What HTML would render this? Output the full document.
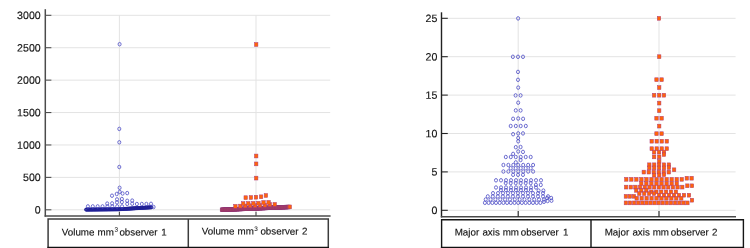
<!DOCTYPE html>
<html><head><meta charset="utf-8"><style>
html,body{margin:0;padding:0;background:#fff;}
body{width:750px;height:248px;overflow:hidden;}
div.wrap{will-change:transform;width:750px;height:248px;filter:blur(0.3px);}
svg{display:block;font-family:"Liberation Sans",sans-serif;}
.grid line{stroke:#e3e3e3;stroke-width:1;}
.axL line{stroke:#4c4c4c;stroke-width:1.5;}
.axR line{stroke:#222;stroke-width:1.4;}
.axL line.tk,.axR line.tk{stroke-width:1.1;}
.axR line.xa{stroke:#4a4a4a;stroke-width:1.5;}
.c ellipse{fill:none;stroke:#4848c4;stroke-width:0.78;}
.cb ellipse{fill:none;stroke:#1e1e96;stroke-width:1;}
.s rect{fill:#ff640a;stroke:#b03c78;stroke-width:0.5;}
.sb rect{fill:#b8445a;stroke:#8c3476;stroke-width:0.5;}
.tl text{font-size:10.6px;fill:#111;stroke:#111;stroke-width:0.14px;text-anchor:end;}
.boxL path{fill:none;stroke:#3c3c3c;stroke-width:1.5;}
.boxR path{fill:none;stroke:#151515;stroke-width:1.4;}
.boxL line.bt,.boxR line.bt{stroke:#111;stroke-width:1.6;}
.lb text{font-size:9.8px;fill:#111;stroke:#111;stroke-width:0.14px;}
.lb text.sup{font-size:6.4px;stroke-width:0;}
</style></head><body>
<div class="wrap"><svg width="750" height="248" viewBox="0 0 750 248"><g class="grid"><line x1="51.4" y1="209.8" x2="330.20000000000005" y2="209.8"/><line x1="51.4" y1="177.38" x2="330.20000000000005" y2="177.38"/><line x1="51.4" y1="144.97" x2="330.20000000000005" y2="144.97"/><line x1="51.4" y1="112.55" x2="330.20000000000005" y2="112.55"/><line x1="51.4" y1="80.13" x2="330.20000000000005" y2="80.13"/><line x1="51.4" y1="47.72" x2="330.20000000000005" y2="47.72"/><line x1="51.4" y1="15.3" x2="330.20000000000005" y2="15.3"/><line x1="119.4" y1="15.3" x2="119.4" y2="216.0"/><line x1="256.0" y1="15.3" x2="256.0" y2="216.0"/><line x1="447.8" y1="210.3" x2="735.6" y2="210.3"/><line x1="447.8" y1="171.9" x2="735.6" y2="171.9"/><line x1="447.8" y1="133.5" x2="735.6" y2="133.5"/><line x1="447.8" y1="95.1" x2="735.6" y2="95.1"/><line x1="447.8" y1="56.7" x2="735.6" y2="56.7"/><line x1="447.8" y1="18.3" x2="735.6" y2="18.3"/><line x1="518.2" y1="18.3" x2="518.2" y2="216.75"/><line x1="659.0" y1="18.3" x2="659.0" y2="216.75"/></g><g class="cb"><ellipse cx="86" cy="209.6" rx="1.5" ry="1.45"/><ellipse cx="86.6" cy="209.59" rx="1.5" ry="1.45"/><ellipse cx="87.19" cy="209.59" rx="1.5" ry="1.45"/><ellipse cx="87.79" cy="209.58" rx="1.5" ry="1.45"/><ellipse cx="88.38" cy="209.58" rx="1.5" ry="1.45"/><ellipse cx="88.98" cy="209.57" rx="1.5" ry="1.45"/><ellipse cx="89.57" cy="209.57" rx="1.5" ry="1.45"/><ellipse cx="90.17" cy="209.56" rx="1.5" ry="1.45"/><ellipse cx="90.76" cy="209.56" rx="1.5" ry="1.45"/><ellipse cx="91.36" cy="209.55" rx="1.5" ry="1.45"/><ellipse cx="91.95" cy="209.54" rx="1.5" ry="1.45"/><ellipse cx="92.55" cy="209.54" rx="1.5" ry="1.45"/><ellipse cx="93.15" cy="209.53" rx="1.5" ry="1.45"/><ellipse cx="93.74" cy="209.53" rx="1.5" ry="1.45"/><ellipse cx="94.34" cy="209.52" rx="1.5" ry="1.45"/><ellipse cx="94.93" cy="209.52" rx="1.5" ry="1.45"/><ellipse cx="95.53" cy="209.51" rx="1.5" ry="1.45"/><ellipse cx="96.12" cy="209.51" rx="1.5" ry="1.45"/><ellipse cx="96.72" cy="209.5" rx="1.5" ry="1.45"/><ellipse cx="97.31" cy="209.49" rx="1.5" ry="1.45"/><ellipse cx="97.91" cy="209.49" rx="1.5" ry="1.45"/><ellipse cx="98.5" cy="209.48" rx="1.5" ry="1.45"/><ellipse cx="99.1" cy="209.48" rx="1.5" ry="1.45"/><ellipse cx="99.7" cy="209.47" rx="1.5" ry="1.45"/><ellipse cx="100.29" cy="209.47" rx="1.5" ry="1.45"/><ellipse cx="100.89" cy="209.46" rx="1.5" ry="1.45"/><ellipse cx="101.48" cy="209.45" rx="1.5" ry="1.45"/><ellipse cx="102.08" cy="209.45" rx="1.5" ry="1.45"/><ellipse cx="102.67" cy="209.44" rx="1.5" ry="1.45"/><ellipse cx="103.27" cy="209.44" rx="1.5" ry="1.45"/><ellipse cx="103.86" cy="209.43" rx="1.5" ry="1.45"/><ellipse cx="104.46" cy="209.43" rx="1.5" ry="1.45"/><ellipse cx="105.05" cy="209.42" rx="1.5" ry="1.45"/><ellipse cx="105.65" cy="209.42" rx="1.5" ry="1.45"/><ellipse cx="106.25" cy="209.41" rx="1.5" ry="1.45"/><ellipse cx="106.84" cy="209.4" rx="1.5" ry="1.45"/><ellipse cx="107.44" cy="209.4" rx="1.5" ry="1.45"/><ellipse cx="108.03" cy="209.39" rx="1.5" ry="1.45"/><ellipse cx="108.63" cy="209.39" rx="1.5" ry="1.45"/><ellipse cx="109.22" cy="209.38" rx="1.5" ry="1.45"/><ellipse cx="109.82" cy="209.38" rx="1.5" ry="1.45"/><ellipse cx="110.41" cy="209.37" rx="1.5" ry="1.45"/><ellipse cx="111.01" cy="209.37" rx="1.5" ry="1.45"/><ellipse cx="111.6" cy="209.36" rx="1.5" ry="1.45"/><ellipse cx="112.2" cy="209.35" rx="1.5" ry="1.45"/><ellipse cx="112.8" cy="209.35" rx="1.5" ry="1.45"/><ellipse cx="113.39" cy="209.34" rx="1.5" ry="1.45"/><ellipse cx="113.99" cy="209.34" rx="1.5" ry="1.45"/><ellipse cx="114.58" cy="209.33" rx="1.5" ry="1.45"/><ellipse cx="115.18" cy="209.33" rx="1.5" ry="1.45"/><ellipse cx="115.77" cy="209.32" rx="1.5" ry="1.45"/><ellipse cx="116.37" cy="209.32" rx="1.5" ry="1.45"/><ellipse cx="116.96" cy="209.31" rx="1.5" ry="1.45"/><ellipse cx="117.56" cy="209.3" rx="1.5" ry="1.45"/><ellipse cx="118.15" cy="209.29" rx="1.5" ry="1.45"/><ellipse cx="118.75" cy="209.26" rx="1.5" ry="1.45"/><ellipse cx="119.35" cy="209.22" rx="1.5" ry="1.45"/><ellipse cx="119.94" cy="209.18" rx="1.5" ry="1.45"/><ellipse cx="120.54" cy="209.15" rx="1.5" ry="1.45"/><ellipse cx="121.13" cy="209.11" rx="1.5" ry="1.45"/><ellipse cx="121.73" cy="209.08" rx="1.5" ry="1.45"/><ellipse cx="122.32" cy="209.04" rx="1.5" ry="1.45"/><ellipse cx="122.92" cy="209.01" rx="1.5" ry="1.45"/><ellipse cx="123.51" cy="208.97" rx="1.5" ry="1.45"/><ellipse cx="124.11" cy="208.94" rx="1.5" ry="1.45"/><ellipse cx="124.7" cy="208.9" rx="1.5" ry="1.45"/><ellipse cx="125.3" cy="208.86" rx="1.5" ry="1.45"/><ellipse cx="125.9" cy="208.83" rx="1.5" ry="1.45"/><ellipse cx="126.49" cy="208.79" rx="1.5" ry="1.45"/><ellipse cx="127.09" cy="208.76" rx="1.5" ry="1.45"/><ellipse cx="127.68" cy="208.72" rx="1.5" ry="1.45"/><ellipse cx="128.28" cy="208.69" rx="1.5" ry="1.45"/><ellipse cx="128.87" cy="208.65" rx="1.5" ry="1.45"/><ellipse cx="129.47" cy="208.62" rx="1.5" ry="1.45"/><ellipse cx="130.06" cy="208.58" rx="1.5" ry="1.45"/><ellipse cx="130.66" cy="208.54" rx="1.5" ry="1.45"/><ellipse cx="131.25" cy="208.51" rx="1.5" ry="1.45"/><ellipse cx="131.85" cy="208.47" rx="1.5" ry="1.45"/><ellipse cx="132.45" cy="208.44" rx="1.5" ry="1.45"/><ellipse cx="133.04" cy="208.4" rx="1.5" ry="1.45"/><ellipse cx="133.64" cy="208.37" rx="1.5" ry="1.45"/><ellipse cx="134.23" cy="208.33" rx="1.5" ry="1.45"/><ellipse cx="134.83" cy="208.3" rx="1.5" ry="1.45"/><ellipse cx="135.42" cy="208.26" rx="1.5" ry="1.45"/><ellipse cx="136.02" cy="208.22" rx="1.5" ry="1.45"/><ellipse cx="136.61" cy="208.19" rx="1.5" ry="1.45"/><ellipse cx="137.21" cy="208.15" rx="1.5" ry="1.45"/><ellipse cx="137.8" cy="208.12" rx="1.5" ry="1.45"/><ellipse cx="138.4" cy="208.08" rx="1.5" ry="1.45"/><ellipse cx="139" cy="208.05" rx="1.5" ry="1.45"/><ellipse cx="139.59" cy="208.01" rx="1.5" ry="1.45"/><ellipse cx="140.19" cy="207.98" rx="1.5" ry="1.45"/><ellipse cx="140.78" cy="207.94" rx="1.5" ry="1.45"/><ellipse cx="141.38" cy="207.9" rx="1.5" ry="1.45"/><ellipse cx="141.97" cy="207.87" rx="1.5" ry="1.45"/><ellipse cx="142.57" cy="207.83" rx="1.5" ry="1.45"/><ellipse cx="143.16" cy="207.8" rx="1.5" ry="1.45"/><ellipse cx="143.76" cy="207.76" rx="1.5" ry="1.45"/><ellipse cx="144.35" cy="207.73" rx="1.5" ry="1.45"/><ellipse cx="144.95" cy="207.69" rx="1.5" ry="1.45"/><ellipse cx="145.55" cy="207.66" rx="1.5" ry="1.45"/><ellipse cx="146.14" cy="207.62" rx="1.5" ry="1.45"/><ellipse cx="146.74" cy="207.58" rx="1.5" ry="1.45"/><ellipse cx="147.33" cy="207.55" rx="1.5" ry="1.45"/><ellipse cx="147.93" cy="207.51" rx="1.5" ry="1.45"/><ellipse cx="148.52" cy="207.48" rx="1.5" ry="1.45"/><ellipse cx="149.12" cy="207.44" rx="1.5" ry="1.45"/><ellipse cx="149.71" cy="207.41" rx="1.5" ry="1.45"/><ellipse cx="150.31" cy="207.37" rx="1.5" ry="1.45"/><ellipse cx="150.9" cy="207.34" rx="1.5" ry="1.45"/><ellipse cx="151.5" cy="207.3" rx="1.5" ry="1.45"/></g><g class="c"><ellipse cx="119.6" cy="44.2" rx="1.52" ry="1.76"/><ellipse cx="119.3" cy="128.9" rx="1.52" ry="1.76"/><ellipse cx="119.3" cy="142.3" rx="1.52" ry="1.76"/><ellipse cx="119.3" cy="167" rx="1.52" ry="1.76"/><ellipse cx="119.6" cy="187.8" rx="1.52" ry="1.76"/><ellipse cx="119.7" cy="191.9" rx="1.52" ry="1.76"/><ellipse cx="116.7" cy="194" rx="1.52" ry="1.76"/><ellipse cx="122.6" cy="193.5" rx="1.52" ry="1.76"/><ellipse cx="127.2" cy="193.1" rx="1.52" ry="1.76"/><ellipse cx="112" cy="195.7" rx="1.52" ry="1.76"/><ellipse cx="117" cy="199.4" rx="1.52" ry="1.76"/><ellipse cx="121.9" cy="199" rx="1.52" ry="1.76"/><ellipse cx="127.2" cy="200.8" rx="1.52" ry="1.76"/><ellipse cx="132.2" cy="200.6" rx="1.52" ry="1.76"/><ellipse cx="117" cy="202.4" rx="1.52" ry="1.76"/><ellipse cx="121.9" cy="202" rx="1.52" ry="1.76"/><ellipse cx="107.2" cy="203.6" rx="1.52" ry="1.76"/><ellipse cx="112.1" cy="203.4" rx="1.52" ry="1.76"/><ellipse cx="127.2" cy="203.9" rx="1.52" ry="1.76"/><ellipse cx="132.2" cy="203.7" rx="1.52" ry="1.76"/><ellipse cx="136.9" cy="204" rx="1.52" ry="1.76"/><ellipse cx="141.8" cy="204" rx="1.52" ry="1.76"/><ellipse cx="146.4" cy="204" rx="1.52" ry="1.76"/><ellipse cx="151" cy="203.8" rx="1.52" ry="1.76"/><ellipse cx="87.9" cy="206.4" rx="1.52" ry="1.76"/><ellipse cx="92.78" cy="206.4" rx="1.52" ry="1.76"/><ellipse cx="97.66" cy="206.4" rx="1.52" ry="1.76"/><ellipse cx="102.54" cy="206.4" rx="1.52" ry="1.76"/><ellipse cx="107.42" cy="206.4" rx="1.52" ry="1.76"/><ellipse cx="112.3" cy="206.4" rx="1.52" ry="1.76"/><ellipse cx="117.18" cy="206.4" rx="1.52" ry="1.76"/><ellipse cx="122.06" cy="206.4" rx="1.52" ry="1.76"/><ellipse cx="153.6" cy="207" rx="1.52" ry="1.76"/><ellipse cx="518.1" cy="18.4" rx="1.52" ry="1.76"/><ellipse cx="512.9" cy="56.8" rx="1.52" ry="1.76"/><ellipse cx="518" cy="56.8" rx="1.52" ry="1.76"/><ellipse cx="523" cy="56.8" rx="1.52" ry="1.76"/><ellipse cx="518" cy="71.9" rx="1.52" ry="1.76"/><ellipse cx="518" cy="79.8" rx="1.52" ry="1.76"/><ellipse cx="518.2" cy="87.6" rx="1.52" ry="1.76"/><ellipse cx="515.6" cy="95.4" rx="1.52" ry="1.76"/><ellipse cx="520.6" cy="95.4" rx="1.52" ry="1.76"/><ellipse cx="518.2" cy="102.7" rx="1.52" ry="1.76"/><ellipse cx="515.8" cy="110.4" rx="1.52" ry="1.76"/><ellipse cx="520.6" cy="110.4" rx="1.52" ry="1.76"/><ellipse cx="513.1" cy="118.8" rx="1.52" ry="1.76"/><ellipse cx="518.2" cy="118.5" rx="1.52" ry="1.76"/><ellipse cx="523.1" cy="118.8" rx="1.52" ry="1.76"/><ellipse cx="510.7" cy="126" rx="1.52" ry="1.76"/><ellipse cx="515.8" cy="126" rx="1.52" ry="1.76"/><ellipse cx="520.7" cy="126" rx="1.52" ry="1.76"/><ellipse cx="525.8" cy="126" rx="1.52" ry="1.76"/><ellipse cx="513.1" cy="134.2" rx="1.52" ry="1.76"/><ellipse cx="518.2" cy="133.4" rx="1.52" ry="1.76"/><ellipse cx="523" cy="133.4" rx="1.52" ry="1.76"/><ellipse cx="518.2" cy="138" rx="1.52" ry="1.76"/><ellipse cx="518.2" cy="141.3" rx="1.52" ry="1.76"/><ellipse cx="515.8" cy="147.2" rx="1.52" ry="1.76"/><ellipse cx="520.6" cy="147" rx="1.52" ry="1.76"/><ellipse cx="518.2" cy="151.5" rx="1.52" ry="1.76"/><ellipse cx="523" cy="151.9" rx="1.52" ry="1.76"/><ellipse cx="513.1" cy="153.9" rx="1.52" ry="1.76"/><ellipse cx="505.8" cy="157" rx="1.52" ry="1.76"/><ellipse cx="510.78" cy="157" rx="1.52" ry="1.76"/><ellipse cx="515.76" cy="157" rx="1.52" ry="1.76"/><ellipse cx="520.74" cy="157" rx="1.52" ry="1.76"/><ellipse cx="525.72" cy="157" rx="1.52" ry="1.76"/><ellipse cx="530.7" cy="157" rx="1.52" ry="1.76"/><ellipse cx="520.6" cy="160" rx="1.52" ry="1.76"/><ellipse cx="515.8" cy="162.4" rx="1.52" ry="1.76"/><ellipse cx="503.4" cy="165" rx="1.52" ry="1.76"/><ellipse cx="508.35" cy="165" rx="1.52" ry="1.76"/><ellipse cx="513.3" cy="165" rx="1.52" ry="1.76"/><ellipse cx="518.25" cy="165" rx="1.52" ry="1.76"/><ellipse cx="523.2" cy="165" rx="1.52" ry="1.76"/><ellipse cx="528.15" cy="165" rx="1.52" ry="1.76"/><ellipse cx="533.1" cy="165" rx="1.52" ry="1.76"/><ellipse cx="510.7" cy="168.2" rx="1.52" ry="1.76"/><ellipse cx="515.7" cy="168.2" rx="1.52" ry="1.76"/><ellipse cx="520.7" cy="168.2" rx="1.52" ry="1.76"/><ellipse cx="525.7" cy="168.2" rx="1.52" ry="1.76"/><ellipse cx="530.7" cy="168.2" rx="1.52" ry="1.76"/><ellipse cx="503.4" cy="171.5" rx="1.52" ry="1.76"/><ellipse cx="508.35" cy="171.5" rx="1.52" ry="1.76"/><ellipse cx="513.3" cy="171.5" rx="1.52" ry="1.76"/><ellipse cx="518.25" cy="171.5" rx="1.52" ry="1.76"/><ellipse cx="523.2" cy="171.5" rx="1.52" ry="1.76"/><ellipse cx="528.15" cy="171.5" rx="1.52" ry="1.76"/><ellipse cx="533.1" cy="171.5" rx="1.52" ry="1.76"/><ellipse cx="513.1" cy="174.8" rx="1.52" ry="1.76"/><ellipse cx="518.05" cy="174.8" rx="1.52" ry="1.76"/><ellipse cx="523" cy="174.8" rx="1.52" ry="1.76"/><ellipse cx="496" cy="180.3" rx="1.52" ry="1.76"/><ellipse cx="501" cy="180.3" rx="1.52" ry="1.76"/><ellipse cx="506" cy="180.3" rx="1.52" ry="1.76"/><ellipse cx="511" cy="180.3" rx="1.52" ry="1.76"/><ellipse cx="516" cy="180.3" rx="1.52" ry="1.76"/><ellipse cx="521" cy="180.3" rx="1.52" ry="1.76"/><ellipse cx="526" cy="180.3" rx="1.52" ry="1.76"/><ellipse cx="531" cy="180.3" rx="1.52" ry="1.76"/><ellipse cx="536" cy="180.3" rx="1.52" ry="1.76"/><ellipse cx="541" cy="180.3" rx="1.52" ry="1.76"/><ellipse cx="505.7" cy="183" rx="1.52" ry="1.76"/><ellipse cx="510.7" cy="183" rx="1.52" ry="1.76"/><ellipse cx="515.7" cy="183" rx="1.52" ry="1.76"/><ellipse cx="520.7" cy="183" rx="1.52" ry="1.76"/><ellipse cx="525.7" cy="183" rx="1.52" ry="1.76"/><ellipse cx="530.7" cy="183" rx="1.52" ry="1.76"/><ellipse cx="535.9" cy="184.9" rx="1.52" ry="1.76"/><ellipse cx="540.8" cy="184.9" rx="1.52" ry="1.76"/><ellipse cx="496" cy="187.5" rx="1.52" ry="1.76"/><ellipse cx="501" cy="187.5" rx="1.52" ry="1.76"/><ellipse cx="506" cy="187.5" rx="1.52" ry="1.76"/><ellipse cx="511" cy="187.5" rx="1.52" ry="1.76"/><ellipse cx="516" cy="187.5" rx="1.52" ry="1.76"/><ellipse cx="521" cy="187.5" rx="1.52" ry="1.76"/><ellipse cx="526" cy="187.5" rx="1.52" ry="1.76"/><ellipse cx="531" cy="187.5" rx="1.52" ry="1.76"/><ellipse cx="536" cy="187.5" rx="1.52" ry="1.76"/><ellipse cx="500.9" cy="190" rx="1.52" ry="1.76"/><ellipse cx="505.9" cy="190" rx="1.52" ry="1.76"/><ellipse cx="510.9" cy="190" rx="1.52" ry="1.76"/><ellipse cx="515.9" cy="190" rx="1.52" ry="1.76"/><ellipse cx="520.9" cy="190" rx="1.52" ry="1.76"/><ellipse cx="525.9" cy="190" rx="1.52" ry="1.76"/><ellipse cx="530.9" cy="190" rx="1.52" ry="1.76"/><ellipse cx="538.6" cy="190.6" rx="1.52" ry="1.76"/><ellipse cx="543.4" cy="190.6" rx="1.52" ry="1.76"/><ellipse cx="493" cy="193.2" rx="1.52" ry="1.76"/><ellipse cx="498" cy="193.2" rx="1.52" ry="1.76"/><ellipse cx="503" cy="193.2" rx="1.52" ry="1.76"/><ellipse cx="508" cy="193.2" rx="1.52" ry="1.76"/><ellipse cx="513" cy="193.2" rx="1.52" ry="1.76"/><ellipse cx="518" cy="193.2" rx="1.52" ry="1.76"/><ellipse cx="523" cy="193.2" rx="1.52" ry="1.76"/><ellipse cx="528" cy="193.2" rx="1.52" ry="1.76"/><ellipse cx="533" cy="193.2" rx="1.52" ry="1.76"/><ellipse cx="538" cy="193.2" rx="1.52" ry="1.76"/><ellipse cx="543" cy="193.2" rx="1.52" ry="1.76"/><ellipse cx="487.8" cy="196.4" rx="1.52" ry="1.76"/><ellipse cx="492.82" cy="196.4" rx="1.52" ry="1.76"/><ellipse cx="497.84" cy="196.4" rx="1.52" ry="1.76"/><ellipse cx="502.86" cy="196.4" rx="1.52" ry="1.76"/><ellipse cx="507.88" cy="196.4" rx="1.52" ry="1.76"/><ellipse cx="512.9" cy="196.4" rx="1.52" ry="1.76"/><ellipse cx="517.92" cy="196.4" rx="1.52" ry="1.76"/><ellipse cx="522.94" cy="196.4" rx="1.52" ry="1.76"/><ellipse cx="527.96" cy="196.4" rx="1.52" ry="1.76"/><ellipse cx="532.98" cy="196.4" rx="1.52" ry="1.76"/><ellipse cx="538" cy="196.4" rx="1.52" ry="1.76"/><ellipse cx="543.02" cy="196.4" rx="1.52" ry="1.76"/><ellipse cx="548.04" cy="196.4" rx="1.52" ry="1.76"/><ellipse cx="485.7" cy="199.5" rx="1.52" ry="1.76"/><ellipse cx="490.55" cy="199.5" rx="1.52" ry="1.76"/><ellipse cx="495.4" cy="199.5" rx="1.52" ry="1.76"/><ellipse cx="500.25" cy="199.5" rx="1.52" ry="1.76"/><ellipse cx="505.1" cy="199.5" rx="1.52" ry="1.76"/><ellipse cx="509.95" cy="199.5" rx="1.52" ry="1.76"/><ellipse cx="514.8" cy="199.5" rx="1.52" ry="1.76"/><ellipse cx="519.65" cy="199.5" rx="1.52" ry="1.76"/><ellipse cx="524.5" cy="199.5" rx="1.52" ry="1.76"/><ellipse cx="529.35" cy="199.5" rx="1.52" ry="1.76"/><ellipse cx="534.2" cy="199.5" rx="1.52" ry="1.76"/><ellipse cx="539.05" cy="199.5" rx="1.52" ry="1.76"/><ellipse cx="543.9" cy="199.5" rx="1.52" ry="1.76"/><ellipse cx="547.1" cy="198" rx="1.52" ry="1.76"/><ellipse cx="551.2" cy="198" rx="1.52" ry="1.76"/><ellipse cx="484.9" cy="202.8" rx="1.52" ry="1.76"/><ellipse cx="488.6" cy="202.8" rx="1.52" ry="1.76"/><ellipse cx="492.3" cy="202.8" rx="1.52" ry="1.76"/><ellipse cx="496" cy="202.8" rx="1.52" ry="1.76"/><ellipse cx="499.7" cy="202.8" rx="1.52" ry="1.76"/><ellipse cx="503.4" cy="202.8" rx="1.52" ry="1.76"/><ellipse cx="507.1" cy="202.8" rx="1.52" ry="1.76"/><ellipse cx="510.8" cy="202.8" rx="1.52" ry="1.76"/><ellipse cx="514.5" cy="202.8" rx="1.52" ry="1.76"/><ellipse cx="518.2" cy="202.8" rx="1.52" ry="1.76"/><ellipse cx="521.9" cy="202.8" rx="1.52" ry="1.76"/><ellipse cx="525.6" cy="202.8" rx="1.52" ry="1.76"/><ellipse cx="529.3" cy="202.8" rx="1.52" ry="1.76"/><ellipse cx="533" cy="202.8" rx="1.52" ry="1.76"/><ellipse cx="536.7" cy="202.8" rx="1.52" ry="1.76"/><ellipse cx="540.4" cy="202.8" rx="1.52" ry="1.76"/><ellipse cx="544" cy="201.8" rx="1.52" ry="1.76"/><ellipse cx="547.6" cy="201" rx="1.52" ry="1.76"/><ellipse cx="551.5" cy="200.7" rx="1.52" ry="1.76"/></g><g class="sb"><rect x="220.19" y="207.91" width="3.22" height="3.78"/><rect x="220.93" y="207.88" width="3.22" height="3.78"/><rect x="221.67" y="207.85" width="3.22" height="3.78"/><rect x="222.41" y="207.82" width="3.22" height="3.78"/><rect x="223.15" y="207.79" width="3.22" height="3.78"/><rect x="223.9" y="207.75" width="3.22" height="3.78"/><rect x="224.64" y="207.72" width="3.22" height="3.78"/><rect x="225.38" y="207.69" width="3.22" height="3.78"/><rect x="226.12" y="207.66" width="3.22" height="3.78"/><rect x="226.86" y="207.63" width="3.22" height="3.78"/><rect x="227.6" y="207.6" width="3.22" height="3.78"/><rect x="228.34" y="207.57" width="3.22" height="3.78"/><rect x="229.08" y="207.54" width="3.22" height="3.78"/><rect x="229.82" y="207.51" width="3.22" height="3.78"/><rect x="230.57" y="207.47" width="3.22" height="3.78"/><rect x="231.31" y="207.44" width="3.22" height="3.78"/><rect x="232.05" y="207.41" width="3.22" height="3.78"/><rect x="232.79" y="207.38" width="3.22" height="3.78"/><rect x="233.53" y="207.35" width="3.22" height="3.78"/><rect x="234.27" y="207.32" width="3.22" height="3.78"/><rect x="235.01" y="207.29" width="3.22" height="3.78"/><rect x="235.75" y="207.26" width="3.22" height="3.78"/><rect x="236.49" y="207.23" width="3.22" height="3.78"/><rect x="237.24" y="207.19" width="3.22" height="3.78"/><rect x="237.98" y="207.16" width="3.22" height="3.78"/><rect x="238.72" y="207.13" width="3.22" height="3.78"/><rect x="239.46" y="207.1" width="3.22" height="3.78"/><rect x="240.2" y="207.07" width="3.22" height="3.78"/><rect x="240.94" y="207.04" width="3.22" height="3.78"/><rect x="241.68" y="207.01" width="3.22" height="3.78"/><rect x="242.42" y="206.98" width="3.22" height="3.78"/><rect x="243.16" y="206.95" width="3.22" height="3.78"/><rect x="243.91" y="206.91" width="3.22" height="3.78"/><rect x="244.65" y="206.88" width="3.22" height="3.78"/><rect x="245.39" y="206.85" width="3.22" height="3.78"/><rect x="246.13" y="206.82" width="3.22" height="3.78"/><rect x="246.87" y="206.79" width="3.22" height="3.78"/><rect x="247.61" y="206.76" width="3.22" height="3.78"/><rect x="248.35" y="206.73" width="3.22" height="3.78"/><rect x="249.09" y="206.7" width="3.22" height="3.78"/><rect x="249.83" y="206.67" width="3.22" height="3.78"/><rect x="250.58" y="206.63" width="3.22" height="3.78"/><rect x="251.32" y="206.6" width="3.22" height="3.78"/><rect x="252.06" y="206.57" width="3.22" height="3.78"/><rect x="252.8" y="206.54" width="3.22" height="3.78"/><rect x="253.54" y="206.51" width="3.22" height="3.78"/><rect x="254.28" y="206.48" width="3.22" height="3.78"/><rect x="255.02" y="206.45" width="3.22" height="3.78"/><rect x="255.76" y="206.42" width="3.22" height="3.78"/><rect x="256.5" y="206.39" width="3.22" height="3.78"/><rect x="257.25" y="206.35" width="3.22" height="3.78"/><rect x="257.99" y="206.32" width="3.22" height="3.78"/><rect x="258.73" y="206.29" width="3.22" height="3.78"/><rect x="259.47" y="206.26" width="3.22" height="3.78"/><rect x="260.21" y="206.23" width="3.22" height="3.78"/><rect x="260.95" y="206.2" width="3.22" height="3.78"/><rect x="261.69" y="206.17" width="3.22" height="3.78"/><rect x="262.43" y="206.14" width="3.22" height="3.78"/><rect x="263.17" y="206.11" width="3.22" height="3.78"/><rect x="263.92" y="206.07" width="3.22" height="3.78"/><rect x="264.66" y="206.04" width="3.22" height="3.78"/><rect x="265.4" y="206.01" width="3.22" height="3.78"/><rect x="266.14" y="205.98" width="3.22" height="3.78"/><rect x="266.88" y="205.95" width="3.22" height="3.78"/><rect x="267.62" y="205.92" width="3.22" height="3.78"/><rect x="268.36" y="205.89" width="3.22" height="3.78"/><rect x="269.1" y="205.86" width="3.22" height="3.78"/><rect x="269.84" y="205.83" width="3.22" height="3.78"/><rect x="270.59" y="205.79" width="3.22" height="3.78"/><rect x="271.33" y="205.76" width="3.22" height="3.78"/><rect x="272.07" y="205.73" width="3.22" height="3.78"/><rect x="272.81" y="205.7" width="3.22" height="3.78"/><rect x="273.55" y="205.67" width="3.22" height="3.78"/><rect x="274.29" y="205.64" width="3.22" height="3.78"/><rect x="275.03" y="205.61" width="3.22" height="3.78"/><rect x="275.77" y="205.58" width="3.22" height="3.78"/><rect x="276.51" y="205.55" width="3.22" height="3.78"/><rect x="277.26" y="205.51" width="3.22" height="3.78"/><rect x="278" y="205.48" width="3.22" height="3.78"/><rect x="278.74" y="205.45" width="3.22" height="3.78"/><rect x="279.48" y="205.42" width="3.22" height="3.78"/><rect x="280.22" y="205.39" width="3.22" height="3.78"/><rect x="280.96" y="205.36" width="3.22" height="3.78"/><rect x="281.7" y="205.33" width="3.22" height="3.78"/><rect x="282.44" y="205.3" width="3.22" height="3.78"/><rect x="283.18" y="205.27" width="3.22" height="3.78"/><rect x="283.93" y="205.23" width="3.22" height="3.78"/><rect x="284.67" y="205.2" width="3.22" height="3.78"/><rect x="285.41" y="205.17" width="3.22" height="3.78"/><rect x="286.15" y="205.14" width="3.22" height="3.78"/><rect x="286.89" y="205.11" width="3.22" height="3.78"/></g><g class="s"><rect x="233.68" y="204.38" width="3.45" height="3.85"/><rect x="238.59" y="204.19" width="3.45" height="3.85"/><rect x="243.52" y="204.01" width="3.45" height="3.85"/><rect x="248.44" y="203.84" width="3.45" height="3.85"/><rect x="253.36" y="203.66" width="3.45" height="3.85"/><rect x="258.27" y="203.47" width="3.45" height="3.85"/><rect x="263.19" y="203.29" width="3.45" height="3.85"/><rect x="268.12" y="202.62" width="3.45" height="3.85"/><rect x="273.03" y="202.44" width="3.45" height="3.85"/><rect x="241.47" y="201.67" width="3.45" height="3.85"/><rect x="246.56" y="201.55" width="3.45" height="3.85"/><rect x="251.63" y="201.43" width="3.45" height="3.85"/><rect x="256.71" y="201.31" width="3.45" height="3.85"/><rect x="261.79" y="200.59" width="3.45" height="3.85"/><rect x="266.87" y="200.47" width="3.45" height="3.85"/><rect x="254.47" y="42.58" width="3.45" height="3.85"/><rect x="254.47" y="154.07" width="3.45" height="3.85"/><rect x="254.47" y="161.97" width="3.45" height="3.85"/><rect x="254.47" y="176.17" width="3.45" height="3.85"/><rect x="243.97" y="195.77" width="3.45" height="3.85"/><rect x="249.18" y="195.57" width="3.45" height="3.85"/><rect x="254.28" y="195.27" width="3.45" height="3.85"/><rect x="259.38" y="194.88" width="3.45" height="3.85"/><rect x="264.17" y="193.57" width="3.45" height="3.85"/><rect x="288.07" y="204.97" width="3.45" height="3.85"/><rect x="657.27" y="16.38" width="3.45" height="3.85"/><rect x="657.48" y="54.78" width="3.45" height="3.85"/><rect x="654.77" y="77.78" width="3.45" height="3.85"/><rect x="659.88" y="77.78" width="3.45" height="3.85"/><rect x="657.48" y="85.67" width="3.45" height="3.85"/><rect x="652.38" y="93.28" width="3.45" height="3.85"/><rect x="657.48" y="93.28" width="3.45" height="3.85"/><rect x="662.27" y="93.28" width="3.45" height="3.85"/><rect x="657.48" y="101.17" width="3.45" height="3.85"/><rect x="657.48" y="108.78" width="3.45" height="3.85"/><rect x="654.77" y="116.28" width="3.45" height="3.85"/><rect x="659.88" y="116.28" width="3.45" height="3.85"/><rect x="657.48" y="124.17" width="3.45" height="3.85"/><rect x="654.77" y="131.77" width="3.45" height="3.85"/><rect x="659.88" y="131.77" width="3.45" height="3.85"/><rect x="649.98" y="139.27" width="3.45" height="3.85"/><rect x="655" y="139.27" width="3.45" height="3.85"/><rect x="660.03" y="139.27" width="3.45" height="3.85"/><rect x="665.07" y="139.27" width="3.45" height="3.85"/><rect x="649.98" y="146.77" width="3.45" height="3.85"/><rect x="655" y="146.77" width="3.45" height="3.85"/><rect x="660.03" y="146.77" width="3.45" height="3.85"/><rect x="665.07" y="146.77" width="3.45" height="3.85"/><rect x="652.38" y="150.17" width="3.45" height="3.85"/><rect x="657.33" y="150.17" width="3.45" height="3.85"/><rect x="662.27" y="150.17" width="3.45" height="3.85"/><rect x="662.27" y="152.57" width="3.45" height="3.85"/><rect x="652.38" y="154.97" width="3.45" height="3.85"/><rect x="657.48" y="154.97" width="3.45" height="3.85"/><rect x="657.48" y="159.38" width="3.45" height="3.85"/><rect x="647.57" y="162.88" width="3.45" height="3.85"/><rect x="652.47" y="162.88" width="3.45" height="3.85"/><rect x="657.37" y="162.88" width="3.45" height="3.85"/><rect x="662.27" y="162.88" width="3.45" height="3.85"/><rect x="667.17" y="162.88" width="3.45" height="3.85"/><rect x="647.57" y="165.97" width="3.45" height="3.85"/><rect x="652.47" y="165.97" width="3.45" height="3.85"/><rect x="657.37" y="165.97" width="3.45" height="3.85"/><rect x="662.27" y="165.97" width="3.45" height="3.85"/><rect x="672.38" y="167.88" width="3.45" height="3.85"/><rect x="642.07" y="170.17" width="3.45" height="3.85"/><rect x="647.07" y="170.17" width="3.45" height="3.85"/><rect x="652.07" y="170.17" width="3.45" height="3.85"/><rect x="657.07" y="170.17" width="3.45" height="3.85"/><rect x="662.07" y="170.17" width="3.45" height="3.85"/><rect x="667.07" y="170.17" width="3.45" height="3.85"/><rect x="652.38" y="173.17" width="3.45" height="3.85"/><rect x="657.48" y="173.07" width="3.45" height="3.85"/><rect x="662.27" y="172.77" width="3.45" height="3.85"/><rect x="667.17" y="165.67" width="3.45" height="3.85"/><rect x="624.57" y="177.38" width="3.45" height="3.85"/><rect x="629.61" y="177.38" width="3.45" height="3.85"/><rect x="634.65" y="177.38" width="3.45" height="3.85"/><rect x="639.69" y="177.38" width="3.45" height="3.85"/><rect x="644.73" y="177.38" width="3.45" height="3.85"/><rect x="649.77" y="177.38" width="3.45" height="3.85"/><rect x="654.81" y="177.38" width="3.45" height="3.85"/><rect x="659.85" y="177.38" width="3.45" height="3.85"/><rect x="664.89" y="177.38" width="3.45" height="3.85"/><rect x="669.93" y="177.38" width="3.45" height="3.85"/><rect x="674.97" y="177.38" width="3.45" height="3.85"/><rect x="680.01" y="177.38" width="3.45" height="3.85"/><rect x="685.07" y="176.27" width="3.45" height="3.85"/><rect x="689.88" y="176.27" width="3.45" height="3.85"/><rect x="639.57" y="181.47" width="3.45" height="3.85"/><rect x="644.63" y="181.47" width="3.45" height="3.85"/><rect x="649.69" y="181.47" width="3.45" height="3.85"/><rect x="654.75" y="181.47" width="3.45" height="3.85"/><rect x="659.81" y="181.47" width="3.45" height="3.85"/><rect x="664.87" y="181.47" width="3.45" height="3.85"/><rect x="669.93" y="181.47" width="3.45" height="3.85"/><rect x="674.99" y="181.47" width="3.45" height="3.85"/><rect x="624.38" y="185.17" width="3.45" height="3.85"/><rect x="629.05" y="185.17" width="3.45" height="3.85"/><rect x="633.74" y="185.17" width="3.45" height="3.85"/><rect x="638.41" y="185.17" width="3.45" height="3.85"/><rect x="643.1" y="185.17" width="3.45" height="3.85"/><rect x="647.77" y="185.17" width="3.45" height="3.85"/><rect x="652.46" y="185.17" width="3.45" height="3.85"/><rect x="657.13" y="185.17" width="3.45" height="3.85"/><rect x="661.81" y="185.17" width="3.45" height="3.85"/><rect x="666.5" y="185.17" width="3.45" height="3.85"/><rect x="671.17" y="185.17" width="3.45" height="3.85"/><rect x="675.86" y="185.17" width="3.45" height="3.85"/><rect x="680.53" y="185.17" width="3.45" height="3.85"/><rect x="685.67" y="183.88" width="3.45" height="3.85"/><rect x="690.27" y="183.88" width="3.45" height="3.85"/><rect x="634.48" y="188.38" width="3.45" height="3.85"/><rect x="639.52" y="188.38" width="3.45" height="3.85"/><rect x="644.58" y="188.38" width="3.45" height="3.85"/><rect x="649.67" y="189.97" width="3.45" height="3.85"/><rect x="654.57" y="189.97" width="3.45" height="3.85"/><rect x="659.47" y="189.97" width="3.45" height="3.85"/><rect x="664.38" y="189.97" width="3.45" height="3.85"/><rect x="669.27" y="189.97" width="3.45" height="3.85"/><rect x="674.17" y="189.97" width="3.45" height="3.85"/><rect x="637.57" y="191.67" width="3.45" height="3.85"/><rect x="642.47" y="191.67" width="3.45" height="3.85"/><rect x="647.37" y="191.67" width="3.45" height="3.85"/><rect x="652.27" y="191.67" width="3.45" height="3.85"/><rect x="657.27" y="193.27" width="3.45" height="3.85"/><rect x="662.27" y="193.27" width="3.45" height="3.85"/><rect x="667.27" y="193.27" width="3.45" height="3.85"/><rect x="672.27" y="193.27" width="3.45" height="3.85"/><rect x="677.27" y="193.27" width="3.45" height="3.85"/><rect x="682.27" y="193.27" width="3.45" height="3.85"/><rect x="687.27" y="193.27" width="3.45" height="3.85"/><rect x="624.17" y="194.38" width="3.45" height="3.85"/><rect x="628.17" y="194.38" width="3.45" height="3.85"/><rect x="632.17" y="194.38" width="3.45" height="3.85"/><rect x="634.98" y="196.27" width="3.45" height="3.85"/><rect x="639.93" y="196.27" width="3.45" height="3.85"/><rect x="644.88" y="196.27" width="3.45" height="3.85"/><rect x="649.83" y="196.27" width="3.45" height="3.85"/><rect x="654.77" y="196.27" width="3.45" height="3.85"/><rect x="659.73" y="196.27" width="3.45" height="3.85"/><rect x="664.68" y="196.27" width="3.45" height="3.85"/><rect x="669.62" y="196.27" width="3.45" height="3.85"/><rect x="674.58" y="196.27" width="3.45" height="3.85"/><rect x="679.52" y="196.27" width="3.45" height="3.85"/><rect x="690.27" y="198.27" width="3.45" height="3.85"/><rect x="624.17" y="200.97" width="3.45" height="3.85"/><rect x="628.27" y="200.97" width="3.45" height="3.85"/><rect x="632.38" y="200.97" width="3.45" height="3.85"/><rect x="636.47" y="200.97" width="3.45" height="3.85"/><rect x="640.57" y="200.97" width="3.45" height="3.85"/><rect x="644.67" y="200.97" width="3.45" height="3.85"/><rect x="648.77" y="200.97" width="3.45" height="3.85"/><rect x="652.88" y="200.97" width="3.45" height="3.85"/><rect x="656.97" y="200.97" width="3.45" height="3.85"/><rect x="661.07" y="200.97" width="3.45" height="3.85"/><rect x="665.17" y="200.97" width="3.45" height="3.85"/><rect x="669.27" y="200.97" width="3.45" height="3.85"/><rect x="673.38" y="200.97" width="3.45" height="3.85"/><rect x="677.47" y="200.97" width="3.45" height="3.85"/><rect x="681.57" y="200.97" width="3.45" height="3.85"/><rect x="685.67" y="200.97" width="3.45" height="3.85"/></g><g class="axL"><line x1="45.3" y1="9.2" x2="45.3" y2="216.7"/><line x1="44.599999999999994" y1="216.0" x2="330.6" y2="216.0"/><line class="tk" x1="45.3" y1="209.8" x2="51.4" y2="209.8"/><line class="tk" x1="45.3" y1="177.38" x2="51.4" y2="177.38"/><line class="tk" x1="45.3" y1="144.97" x2="51.4" y2="144.97"/><line class="tk" x1="45.3" y1="112.55" x2="51.4" y2="112.55"/><line class="tk" x1="45.3" y1="80.13" x2="51.4" y2="80.13"/><line class="tk" x1="45.3" y1="47.72" x2="51.4" y2="47.72"/><line class="tk" x1="45.3" y1="15.3" x2="51.4" y2="15.3"/><line class="tk" x1="119.4" y1="211.7" x2="119.4" y2="216.0"/><line class="tk" x1="256.0" y1="211.7" x2="256.0" y2="216.0"/></g><g class="axR"><line x1="441.5" y1="12.3" x2="441.5" y2="217.45"/><line class="xa" x1="440.8" y1="216.75" x2="736.0" y2="216.75"/><line class="tk" x1="441.5" y1="210.3" x2="447.8" y2="210.3"/><line class="tk" x1="441.5" y1="171.9" x2="447.8" y2="171.9"/><line class="tk" x1="441.5" y1="133.5" x2="447.8" y2="133.5"/><line class="tk" x1="441.5" y1="95.1" x2="447.8" y2="95.1"/><line class="tk" x1="441.5" y1="56.7" x2="447.8" y2="56.7"/><line class="tk" x1="441.5" y1="18.3" x2="447.8" y2="18.3"/><line class="tk" x1="518.2" y1="211" x2="518.2" y2="216.75"/><line class="tk" x1="659.0" y1="211" x2="659.0" y2="216.75"/></g><g class="tl"><text transform="translate(40.7 213.5) rotate(0.05)">0</text><text transform="translate(40.7 181.08) rotate(0.05)">500</text><text transform="translate(40.7 148.67) rotate(0.05)">1000</text><text transform="translate(40.7 116.25) rotate(0.05)">1500</text><text transform="translate(40.7 83.83) rotate(0.05)">2000</text><text transform="translate(40.7 51.42) rotate(0.05)">2500</text><text transform="translate(40.7 19) rotate(0.05)">3000</text><text transform="translate(437.3 214) rotate(0.05)">0</text><text transform="translate(437.3 175.6) rotate(0.05)">5</text><text transform="translate(437.3 137.2) rotate(0.05)">10</text><text transform="translate(437.3 98.8) rotate(0.05)">15</text><text transform="translate(437.3 60.4) rotate(0.05)">20</text><text transform="translate(437.3 22) rotate(0.05)">25</text></g><g class="boxL"><path d="M48.1 248.6V218.9H328.3V248.6M188.3 218.9V248.6"/><line class="bt" x1="47.4" y1="247.6" x2="329.0" y2="247.6"/></g><g class="boxR"><path d="M441.6 248.6V219.7H743.4V248.6M591.0 219.7V248.6"/><line class="bt" x1="440.90000000000003" y1="247.6" x2="744.1" y2="247.6"/></g><g class="lb"><text transform="translate(61.8 235.4) rotate(0.05)">Volume</text><text transform="translate(97.6 235.4) rotate(0.05)">mm</text><text transform="translate(114.45 231.7) rotate(0.05)" class="sup">3</text><text transform="translate(119.4 235.4) rotate(0.05)">observer</text><text transform="translate(161.3 235.4) rotate(0.05)">1</text><text transform="translate(201.8 234.6) rotate(0.05)">Volume</text><text transform="translate(237.5 234.6) rotate(0.05)">mm</text><text transform="translate(254.25 230.9) rotate(0.05)" class="sup">3</text><text transform="translate(260.4 234.6) rotate(0.05)">observer</text><text transform="translate(301.9 234.6) rotate(0.05)">2</text><text transform="translate(454.7 235.4) rotate(0.05)">Major</text><text transform="translate(482.4 235.4) rotate(0.05)">axis</text><text transform="translate(502.7 235.4) rotate(0.05)">mm</text><text transform="translate(520.7 235.4) rotate(0.05)">observer</text><text transform="translate(563.0 235.4) rotate(0.05)">1</text><text transform="translate(604.7 235.5) rotate(0.05)">Major</text><text transform="translate(632.4 235.5) rotate(0.05)">axis</text><text transform="translate(652.7 235.5) rotate(0.05)">mm</text><text transform="translate(670.7 235.5) rotate(0.05)">observer</text><text transform="translate(711.9 235.5) rotate(0.05)">2</text></g></svg></div>
</body></html>
